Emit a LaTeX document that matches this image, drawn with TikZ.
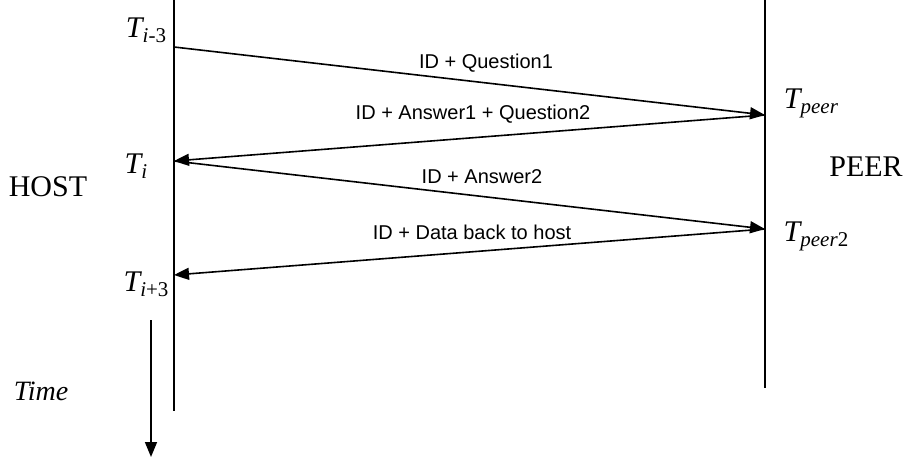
\documentclass[tikz,border=0pt]{standalone}
\usepackage{fontspec}
\setmainfont{Liberation Serif}
\newfontfamily\arial{Liberation Sans}
\usetikzlibrary{arrows.meta}
\newcommand\Tlab[1]{{\fontsize{30}{30}\selectfont\itshape T}\raisebox{-5pt}{\fontsize{21}{21}\selectfont #1}}
\begin{document}
\begin{tikzpicture}[x=1pt,y=-1pt,
  life/.style={line width=1.6pt},
  msg/.style={line width=1.6pt,-{Triangle[length=15pt,width=12pt]}},
  msglab/.style={font=\arial\fontsize{20}{20}\selectfont,inner sep=0pt},
  tlab/.style={inner sep=0pt},
  big/.style={font=\fontsize{30}{30}\selectfont,inner sep=0pt}]
\useasboundingbox (0,0) rectangle (906,461);
% lifelines
\coordinate (htop) at (174,0);
\coordinate (hbot) at (174,411);
\coordinate (ptop) at (765,0);
\coordinate (pbot) at (765,388);
\draw[life] (htop) -- (hbot);
\draw[life] (ptop) -- (pbot);
% message points
\coordinate (h1) at (174,47);
\coordinate (p1) at (765,115);
\coordinate (h2) at (174,161);
\coordinate (p2) at (765,229);
\coordinate (h3) at (174,275);
\draw[msg] (h1) -- (p1);
\draw[msg] (p1) -- (h2);
\draw[msg] (h2) -- (p2);
\draw[msg] (p2) -- (h3);
% message labels
\node[msglab] (l1) at (486,63) {ID + Question1};
\node[msglab] (l2) at (473,114) {ID + Answer1 + Question2};
\node[msglab] (l3) at (482,177) {ID + Answer2};
\node[msglab] (l4) at (472,232) {ID + Data back to host};
% time labels
\node[tlab] (t1) at (146,30) {\Tlab{\textit{i}-3}};
\node[tlab] (t2) at (136,166) {\Tlab{\textit{i}}};
\node[tlab] (t3) at (146,284) {\Tlab{\textit{i}+3}};
\node[tlab] (t4) at (811,103) {\Tlab{\textit{peer}}};
\node[tlab] (t5) at (816,236) {\Tlab{\textit{peer}2}};
\node[big] (host) at (48,187) {HOST};
\node[big] (peer) at (866,167) {PEER};
% time arrow
\coordinate (ta) at (151,320);
\coordinate (tb) at (151,457);
\draw[msg] (ta) -- (tb);
\node[inner sep=0pt,font=\fontsize{28}{28}\selectfont\itshape] (time) at (41,391) {Time};
\end{tikzpicture}
\end{document}
